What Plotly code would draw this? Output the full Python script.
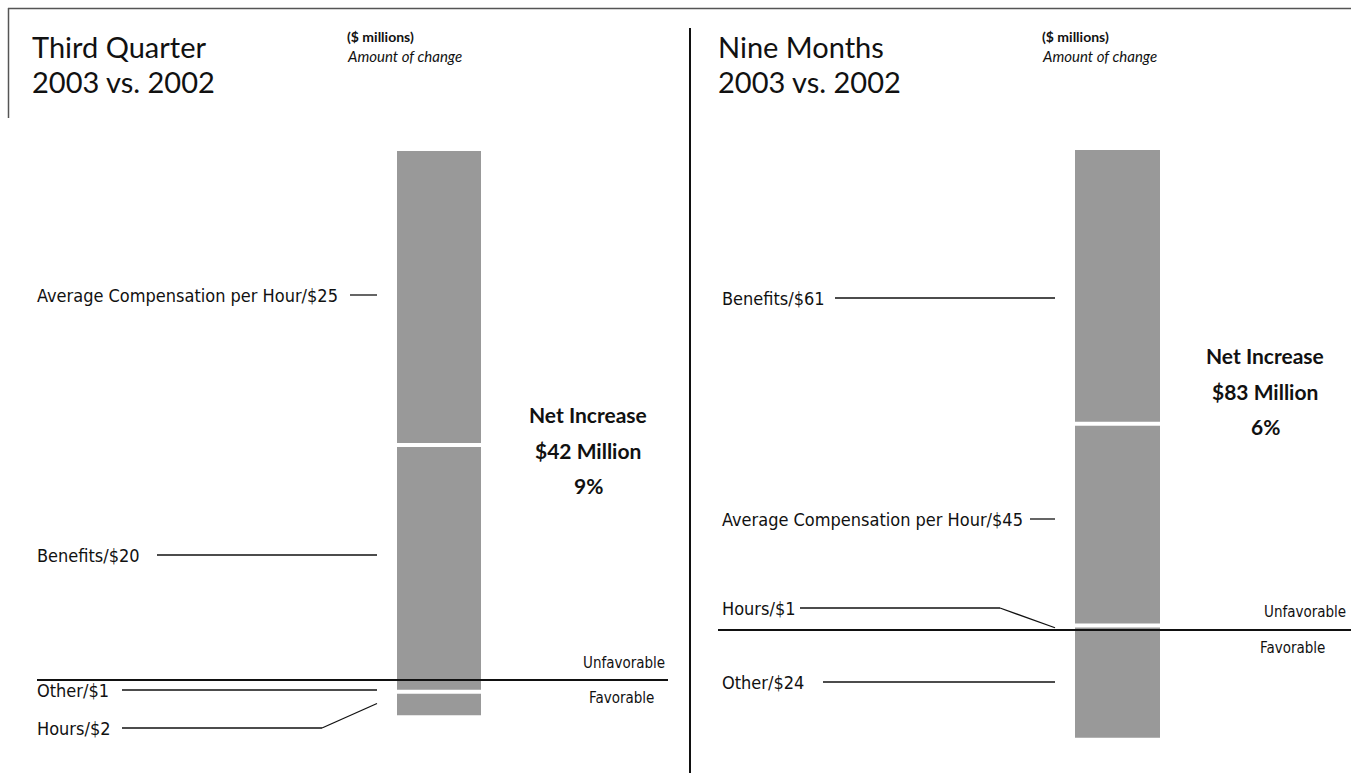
import plotly.graph_objects as go

# ---------------- data ----------------
q3_labels = ["Average Compensation per Hour", "Benefits", "Other", "Hours"]
q3_values = [25, 20, -1, -2]
q3_net = 42
q3_pct = 9

nm_labels = ["Benefits", "Average Compensation per Hour", "Hours", "Other"]
nm_values = [61, 45, 1, -24]
nm_net = 83
nm_pct = 6

W, H = 1351, 773
BAR = "#999999"
LABEL_FONT = "DejaVu Sans Condensed, Liberation Sans Narrow, sans-serif"
TITLE_FONT = "Lato"


def px2x(px):
    return px / W


def px2y(py):
    return 1 - py / H


def segments(values):
    """Waterfall stacking: unfavorable (positive) upward from zero, favorable
    (negative) downward from zero."""
    segs = [None] * len(values)
    pos_idx = [i for i, v in enumerate(values) if v > 0]
    neg_idx = [i for i, v in enumerate(values) if v < 0]
    base = 0
    for i in reversed(pos_idx):
        segs[i] = (base, values[i])
        base += values[i]
    base = 0
    for i in neg_idx:
        segs[i] = (base, values[i])
        base += values[i]
    gaps = []
    acc = 0
    for i in reversed(pos_idx[1:]):
        acc += values[i]
        gaps.append(acc)
    acc = 0
    for i in neg_idx[:-1]:
        acc += values[i]
        gaps.append(acc)
    return segs, gaps


fig = go.Figure()

panels = [
    dict(values=q3_values, labels=q3_labels, xa="x", ya="y",
         zero_px=680, top_px=151, bar_l=397, bar_r=481,
         dom=(0, 690 / W)),
    dict(values=nm_values, labels=nm_labels, xa="x2", ya="y2",
         zero_px=630, top_px=150, bar_l=1075, bar_r=1160,
         dom=(690 / W, 1)),
]

for p in panels:
    segs, gaps = segments(p["values"])
    for (b, v), lab in zip(segs, p["labels"]):
        fig.add_trace(go.Bar(x=[0], y=[v], base=[b], width=1,
                             marker=dict(color=BAR, line=dict(width=0)),
                             xaxis=p["xa"], yaxis=p["ya"], name=lab,
                             showlegend=False, hoverinfo="skip"))
    for g in gaps:
        fig.add_trace(go.Scatter(x=[-0.5, 0.5], y=[g, g], mode="lines",
                                 line=dict(color="white", width=4),
                                 xaxis=p["xa"], yaxis=p["ya"],
                                 showlegend=False, hoverinfo="skip"))
    pos_sum = sum(v for v in p["values"] if v > 0)
    s = (p["zero_px"] - p["top_px"]) / pos_sum
    p["yrange"] = [-(H - p["zero_px"]) / s, p["zero_px"] / s]
    dom_px = (p["dom"][0] * W, p["dom"][1] * W)
    bw = p["bar_r"] - p["bar_l"]
    c = (p["bar_l"] + p["bar_r"]) / 2
    p["xrange"] = [(dom_px[0] - c) / bw, (dom_px[1] - c) / bw]
    p["scale"] = s
    p["segs"] = segs

ax_common = dict(showgrid=False, zeroline=False, showticklabels=False,
                 showline=False, ticks="", fixedrange=True)
fig.update_layout(
    width=W, height=H, margin=dict(l=0, r=0, t=0, b=0),
    paper_bgcolor="white", plot_bgcolor="white", barmode="overlay",
    xaxis=dict(domain=list(panels[0]["dom"]), range=panels[0]["xrange"], **ax_common),
    yaxis=dict(domain=[0, 1], range=panels[0]["yrange"], anchor="x", **ax_common),
    xaxis2=dict(domain=list(panels[1]["dom"]), range=panels[1]["xrange"], **ax_common),
    yaxis2=dict(domain=[0, 1], range=panels[1]["yrange"], anchor="x2", **ax_common),
)

shapes = []
ann = []


def line(x0, y0, x1, y1, color="#111", width=1.3):
    shapes.append(dict(type="line", xref="paper", yref="paper",
                       x0=px2x(x0), y0=px2y(y0), x1=px2x(x1), y1=px2y(y1),
                       line=dict(color=color, width=width)))


def text(t, x, y, size, font=LABEL_FONT, xanchor="left", bold=False,
         italic=False, color="#111"):
    if bold:
        t = "<b>" + t + "</b>"
    if italic:
        t = "<i>" + t + "</i>"
    ann.append(dict(text=t, x=px2x(x), y=px2y(y), xref="paper", yref="paper",
                    xanchor=xanchor, yanchor="middle", showarrow=False,
                    font=dict(family=font, size=size, color=color)))


# frame and divider
line(8, 8.5, W, 8.5, color="#555", width=1.5)
line(8.5, 8, 8.5, 118, color="#555", width=1.5)
line(690, 28, 690, H, color="#111", width=2)

# zero lines
line(37, panels[0]["zero_px"], 668, panels[0]["zero_px"], width=1.8)
line(718, panels[1]["zero_px"], W, panels[1]["zero_px"], width=1.8)

# titles
for x0, t1, sub_x in [(30, "Third Quarter", 345), (716, "Nine Months", 1040)]:
    text(t1, x0, 46, 29, font=TITLE_FONT)
    text("2003 vs. 2002", x0, 82, 29, font=TITLE_FONT)
    text("($ millions)", sub_x, 37, 14, font=TITLE_FONT, bold=True)
    text("Amount of change", sub_x, 56, 15, font=TITLE_FONT, italic=True)

# segment labels: (label y px, line start px, line end px)
label_layout = [
    [(295, 350, 377), (555, 157, 377), (690, 122, 377), (728, 122, 377)],
    [(298, 835, 1055), (519, 1030, 1055), (608, 800, 1055), (682, 823, 1055)],
]
label_x = [35, 720]
for p, lay, lx in zip(panels, label_layout, label_x):
    for (b, v), lab, val, (ly, l0, l1) in zip(p["segs"], p["labels"], p["values"], lay):
        text(f"{lab}/${abs(val)}", lx, ly, 18)
        mid_px = p["zero_px"] - (b + v / 2) * p["scale"]
        top_px = p["zero_px"] - max(b, b + v) * p["scale"]
        bot_px = p["zero_px"] - min(b, b + v) * p["scale"]
        if top_px - 1 <= ly <= bot_px + 1:
            line(l0, ly, l1, ly)
        else:
            bend = l1 - 55
            line(l0, ly, bend, ly)
            line(bend, ly, l1, mid_px)

# net increase text
for cx, cy, net, pct in [(588, 414, q3_net, q3_pct), (1265, 355, nm_net, nm_pct)]:
    text("Net Increase", cx, cy, 21, font=TITLE_FONT, xanchor="center", bold=True)
    text(f"${net} Million", cx, cy + 36, 21, font=TITLE_FONT, xanchor="center", bold=True)
    text(f"{pct}%", cx, cy + 71, 21, font=TITLE_FONT, xanchor="center", bold=True)

# favorable / unfavorable
text("Unfavorable", 667, 663, 15, xanchor="right")
text("Favorable", 587, 698, 15)
text("Unfavorable", 1348, 612, 15, xanchor="right")
text("Favorable", 1258, 648, 15)

fig.update_layout(shapes=shapes, annotations=ann)
fig.write_html("out.html", config={"displayModeBar": False},
               post_script="document.body.style.margin='0';")
